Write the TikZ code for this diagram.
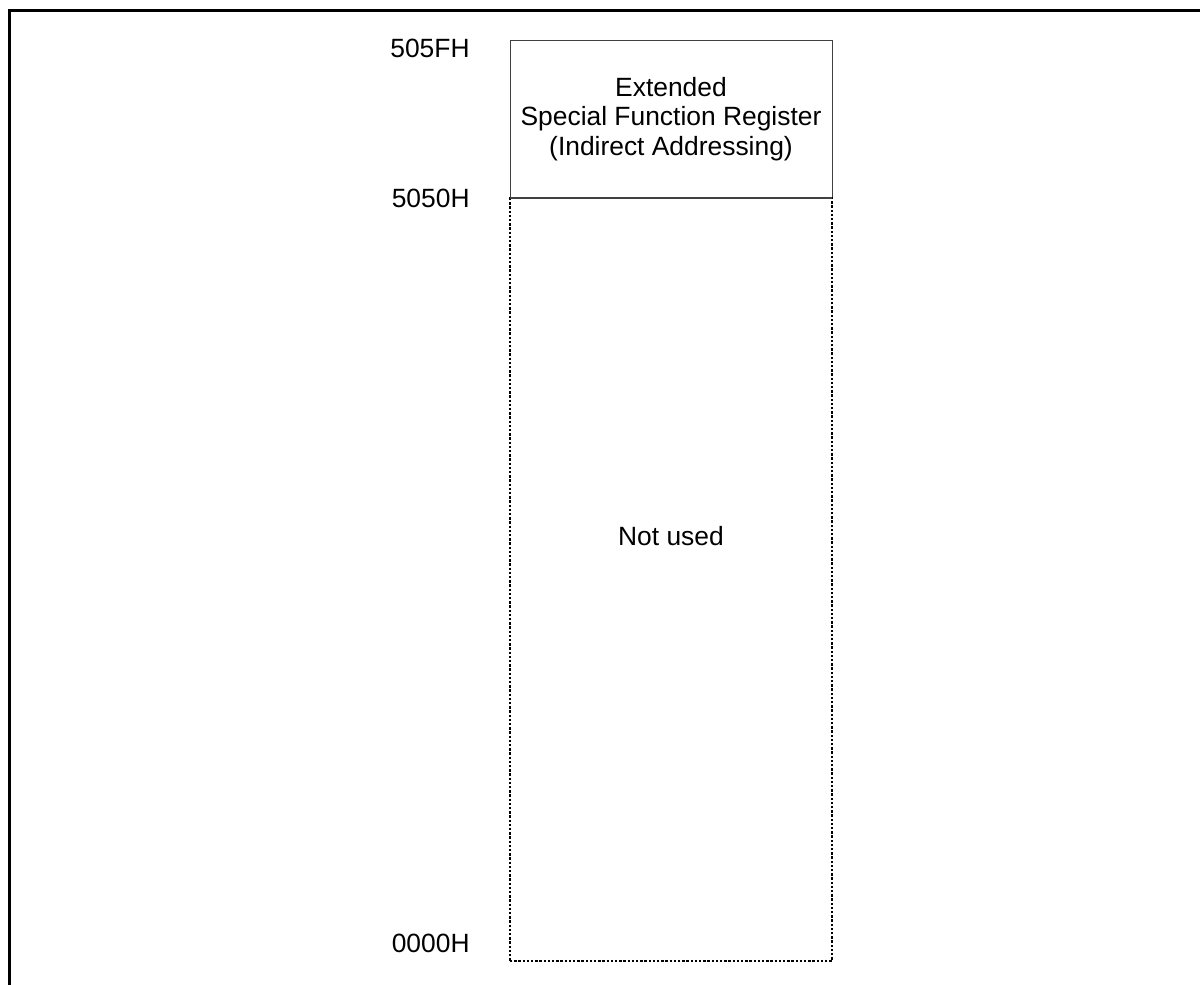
\documentclass[tikz,border=0pt]{standalone}
\usepackage{fontspec}
\setmainfont{Liberation Sans}
\usetikzlibrary{positioning}

\begin{document}
\begin{tikzpicture}[
  x=0.5pt, y=-0.5pt,
  font=\fontsize{13.2}{14.8}\selectfont,
  frame/.style={draw=black, line width=1.5pt},
  area/.style={rectangle, draw=black!75, line width=0.5pt, inner sep=0pt, outer sep=0pt,
               minimum width=161pt, align=center},
  sfr/.style={area, minimum height=79pt},
  free/.style={area, minimum height=381.5pt, dash pattern=on 1.2pt off 0.9pt, line width=0.8pt, draw=black},
  addr/.style={anchor=base east, inner sep=0pt}
]
\useasboundingbox (0,0) rectangle (1200,985);
\draw[frame] (9,990) -- (9,10) -- (1205,10);

\node[sfr] (ext) at (671,119) {Extended\\Special Function Register\\(Indirect Addressing)};
\node[free, below=0pt of ext] (unused) {};
\draw[draw=black!75, line width=0.6pt] (ext.south west) -- (ext.south east);
\node (nu) at (671,536) {Not used};

\node[addr] (a505f) at (470,57)  {505FH};
\node[addr] (a5050) at (470,207) {5050H};
\node[addr] (a0000) at (470,952) {0000H};
\end{tikzpicture}
\end{document}
